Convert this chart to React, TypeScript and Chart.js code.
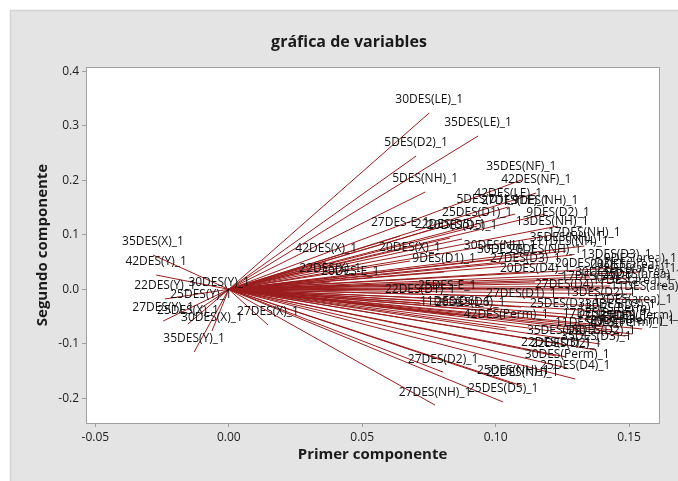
import React, { useEffect, useRef } from "react";
import { Chart, registerables } from "chart.js";

Chart.register(...registerables);

const chartTitle = "gráfica de variables";
const xAxisTitle = "Primer componente";
const yAxisTitle = "Segundo componente";

const xTicks = [-0.05, 0, 0.05, 0.1, 0.15];
const yTicks = [-0.2, -0.1, 0, 0.1, 0.2, 0.3, 0.4];

const variableNames = [
  "30DES(LE)_1", "35DES(LE)_1", "5DES(D2)_1", "5DES(NH)_1", "35DES(NF)_1",
  "42DES(NF)_1", "42DES(LE)_1", "5DES(D1)_1", "27DES(LE)_1", "9DES(NH)_1",
  "25DES(D1)_1", "9DES(D2)_1", "13DES(NH)_1", "22DES(D5)_1", "20DES(D5)_1",
  "27DES-E_1", "17DES(NH)_1", "35DES(NH)_1", "11DES(NH)_1", "30DES(NH)_1",
  "30DES-E_1", "20DES(NH)_1", "13DES(D3)_1", "27DES(D3)_1", "20DES(D4)_1",
  "9DES(D1)_1", "20DES(X)_1", "42DES(X)_1", "22DES(X)_1", "20DES-E_1",
  "35DES(X)_1", "42DES(Y)_1", "22DES(Y)_1", "30DES(Y)_1", "25DES(Y)_1",
  "27DES(Y)_1", "25DES(X)_1", "30DES(X)_1", "27DES(X)_1", "35DES(Y)_1",
  "27DES(D2)_1", "27DES(NH)_1", "25DES(D5)_1", "25DES(NH)_1", "22DES(NH)_1",
  "25DES(D4)_1", "30DES(Perm)_1", "42DES(Perm)_1", "35DES(D6)_1", "22DES(D3)_1",
  "22DES(D2)_1", "25DES-E_1", "22DES(D1)_1", "11DES(D6)_1", "20DES(D6)_1",
  "27DES(D1)_1", "20DES(area)_1", "25DES(area)_1", "17DES(area)_1", "27DES(D4)_1",
  "13DES(D2)_1", "13DES(area)_1", "25DES(D3)_1", "17DES(Perm)_1", "35DES(Perm)_1",
  "20DES(Perm)_1", "35DES(D2)_1", "20DES(D2)_1", "22DES(area)_1", "30DES(D3)_1",
  "17DES(D2)_1", "9DES(Perm)_1", "11DES(D3)_1", "35DES(D3)_1", "13DES(Perm)_1",
  "30DES(D1)_1", "17DES(D3)_1", "11DES(area)_1", "9DES(area)_1"
];

const pc1 = [
  0.0751, 0.0934, 0.0702, 0.0736, 0.1096,
  0.1152, 0.1047, 0.0972, 0.1073, 0.1186,
  0.0931, 0.1234, 0.1212, 0.0829, 0.0874,
  0.0642, 0.1332, 0.1264, 0.1287, 0.1017,
  0.1039, 0.1185, 0.1452, 0.1111, 0.1148,
  0.0807, 0.0679, 0.0365, 0.0380, 0.0455,
  -0.0284, -0.0272, -0.0239, -0.0036, -0.0104,
  -0.0246, -0.0153, -0.0063, 0.0147, -0.0130,
  0.0803, 0.0773, 0.1028, 0.1066, 0.1100,
  0.1298, 0.1268, 0.1039, 0.1249, 0.1227,
  0.1264, 0.0818, 0.0717, 0.0848, 0.0904,
  0.1096, 0.1504, 0.1549, 0.1512, 0.1279,
  0.1392, 0.1512, 0.1261, 0.1410, 0.1549,
  0.1512, 0.1392, 0.1354, 0.1527, 0.1467,
  0.1437, 0.1486, 0.1354, 0.1377, 0.1467,
  0.1429, 0.1377, 0.1580, 0.1542
];

const pc2 = [
  0.3235, 0.2813, 0.2446, 0.1785, 0.2006,
  0.1767, 0.1510, 0.1400, 0.1382, 0.1382,
  0.1161, 0.1161, 0.0996, 0.0941, 0.0923,
  0.0978, 0.0794, 0.0703, 0.0629, 0.0556,
  0.0483, 0.0483, 0.0391, 0.0317, 0.0134,
  0.0317, 0.0519, 0.0501, 0.0134, 0.0079,
  0.0629, 0.0262, -0.0178, -0.0123, -0.0343,
  -0.0582, -0.0637, -0.0765, -0.0655, -0.1151,
  -0.1520, -0.2125, -0.2068, -0.1738, -0.1774,
  -0.1646, -0.1444, -0.0710, -0.1004, -0.1224,
  -0.1242, -0.0178, -0.0251, -0.0472, -0.0490,
  -0.0325, 0.0207, 0.0024, -0.0086, -0.0160,
  -0.0306, -0.0435, -0.0508, -0.0692, -0.0728,
  -0.0820, -0.1004, 0.0226, 0.0134, -0.0527,
  -0.0747, -0.0857, -0.0857, -0.1114, -0.0600,
  0.0061, -0.0013, -0.0196, 0.0318
];

const lineColor = "#9b1c1c";

export default function App() {
  const canvasRef = useRef<HTMLCanvasElement | null>(null);

  useEffect(() => {
    const canvas = canvasRef.current;
    if (!canvas) return;

    const panelPlugin = {
      id: "panelPlugin",
      beforeDraw(chart: any) {
        const { ctx, chartArea } = chart;
        ctx.save();
        ctx.fillStyle = "#ffffff";
        ctx.fillRect(0, 0, chart.width, chart.height);
        ctx.fillStyle = "#e4e4e4";
        ctx.fillRect(10, 10, chart.width - 10, chart.height - 10);
        ctx.strokeStyle = "#d4d4d4";
        ctx.lineWidth = 1.5;
        ctx.beginPath();
        ctx.moveTo(10.5, chart.height);
        ctx.lineTo(10.5, 10.5);
        ctx.lineTo(chart.width, 10.5);
        ctx.stroke();
        ctx.fillStyle = "#ffffff";
        ctx.fillRect(chartArea.left, chartArea.top, chartArea.right - chartArea.left, chartArea.bottom - chartArea.top);
        ctx.restore();
      },
      afterDatasetsDraw(chart: any) {
        const { ctx, chartArea, scales } = chart;
        ctx.save();
        ctx.font = '12px "Open Sans"';
        ctx.fillStyle = "#111111";
        ctx.textAlign = "center";
        ctx.textBaseline = "middle";
        for (let i = 0; i < variableNames.length; i++) {
          const px = scales.x.getPixelForValue(pc1[i]);
          const py = scales.y.getPixelForValue(pc2[i]);
          ctx.fillText(variableNames[i], px, py - 13);
        }
        ctx.strokeStyle = "#a0a0a0";
        ctx.lineWidth = 1;
        ctx.strokeRect(
          Math.round(chartArea.left) + 0.5,
          Math.round(chartArea.top) + 0.5,
          Math.round(chartArea.right - chartArea.left),
          Math.round(chartArea.bottom - chartArea.top)
        );
        ctx.restore();
      },
    };

    const datasets = variableNames.map((name, i) => ({
      label: name,
      data: [
        { x: 0, y: 0 },
        { x: pc1[i], y: pc2[i] },
      ],
      showLine: true,
      borderColor: lineColor,
      backgroundColor: lineColor,
      borderWidth: 1,
      pointRadius: 0,
      fill: false,
    }));

    const chart = new Chart(canvas, {
      type: "scatter",
      data: { datasets },
      plugins: [panelPlugin],
      options: {
        responsive: false,
        devicePixelRatio: 1,
        animation: false,
        layout: { padding: { left: 20, right: 0, top: 0, bottom: 0 } },
        plugins: {
          legend: { display: false },
          tooltip: { enabled: false },
          title: {
            display: true,
            text: chartTitle,
            color: "#1a1a1a",
            font: { family: '"Open Sans"', size: 16, weight: "bold" },
            padding: { top: 32.4, bottom: 15.4 },
          },
        },
        scales: {
          x: {
            type: "linear",
            position: "bottom",
            min: -0.0535,
            max: 0.1612,
            afterFit: (s: any) => {
              s.height = 58;
            },
            afterBuildTicks: (s: any) => {
              s.ticks = xTicks.map((v) => ({ value: v }));
            },
            ticks: {
              color: "#222222",
              font: { family: '"Open Sans"', size: 12 },
              padding: 3,
              maxRotation: 0,
              callback: (v: any) => Number(v).toFixed(2),
            },
            grid: { display: true, drawOnChartArea: false, drawTicks: true, tickLength: 4, color: "#a0a0a0" },
            border: { display: false },
            title: {
              display: true,
              text: xAxisTitle,
              color: "#1a1a1a",
              font: { family: '"Open Sans"', size: 15, weight: "bold" },
              padding: { top: 0, bottom: 17 },
            },
          },
          y: {
            type: "linear",
            position: "left",
            min: -0.2453,
            max: 0.4079,
            afterFit: (s: any) => {
              s.width = 66;
            },
            afterBuildTicks: (s: any) => {
              s.ticks = yTicks.map((v) => ({ value: v }));
            },
            ticks: {
              color: "#222222",
              font: { family: '"Open Sans"', size: 12 },
              padding: 3,
              callback: (v: any) => Number(v).toFixed(1),
            },
            grid: { display: true, drawOnChartArea: false, drawTicks: true, tickLength: 4, color: "#a0a0a0" },
            border: { display: false },
            title: {
              display: true,
              text: yAxisTitle,
              color: "#1a1a1a",
              font: { family: '"Open Sans"', size: 15, weight: "bold" },
              padding: { top: 14, bottom: 0 },
            },
          },
          yRight: {
            type: "linear",
            position: "right",
            display: true,
            afterFit: (s: any) => {
              s.width = 19;
            },
            ticks: { display: false },
            grid: { display: false },
            border: { display: false },
          },
        },
      },
    });

    return () => chart.destroy();
  }, []);

  return (
    <div style={{ position: "fixed", left: 0, top: 0, width: 678, height: 481 }}>
      <canvas ref={canvasRef} width={678} height={481} style={{ display: "block", width: 678, height: 481 }} />
    </div>
  );
}
